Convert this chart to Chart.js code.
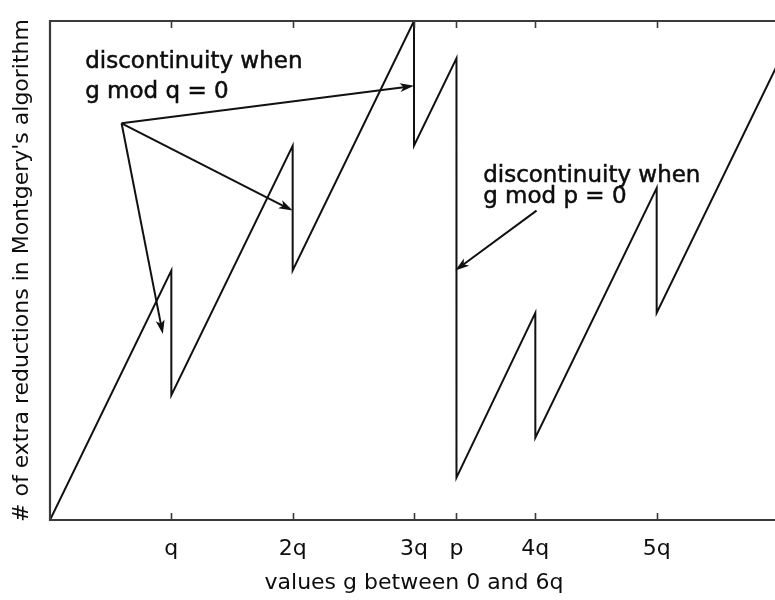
<!DOCTYPE html>
<html lang="en">
<head>
	<meta charset="UTF-8">
	<title>extra reductions</title>
	<script src="https://cdn.jsdelivr.net/npm/chart.js@4/dist/chart.umd.min.js"></script>
	<style>
		html, body { margin: 0; padding: 0; overflow: hidden; background: #fff; }
		.box { width: 778px; height: 600px; }
	</style>
</head>
<body>
	<div class="box">
		<canvas id="myChart"></canvas>
	</div>
<script>
	// g in units of q, p sits between 3q and 4q
	var P = 3.35;
	var gValues = [0, 1, 1, 2, 2, 3, 3, P, P, 4, 4, 5, 5, 6];
	var reductions = [0, 1, 0.5, 1.5, 1.0, 2.0, 1.5, 1.85, 0.17, 0.83, 0.33, 1.33, 0.83, 1.83];
	var tickValues = [1, 2, 3, P, 4, 5];
	var tickLabels = ["q", "2q", "3q", "p", "4q", "5q"];

	// annotation texts and arrows, in data units
	var noteQ = ["discontinuity when", "g mod q = 0"];
	var noteP = ["discontinuity when", "g mod p = 0"];
	var arrowsQ = [[3.0, 1.74], [2.0, 1.24], [0.93, 0.745]];
	var arrowQFrom = [0.59, 1.59];
	var arrowP = [[4.01, 1.24], [3.34, 1.0]];

	var points = [];
	for (var i = 0; i < gValues.length; i++) {
		points.push({x: gValues[i], y: reductions[i]});
	}

	var FONT = "'DejaVu Sans', sans-serif";
	var TEXT = "#0d0d0d";

	function arrow(ctx, x1, y1, x2, y2) {
		var a = Math.atan2(y2 - y1, x2 - x1);
		var len = 14, w = 4.5;
		ctx.beginPath();
		ctx.moveTo(x1, y1);
		ctx.lineTo(x2 - Math.cos(a) * len * 0.6, y2 - Math.sin(a) * len * 0.6);
		ctx.stroke();
		ctx.beginPath();
		ctx.moveTo(x2, y2);
		ctx.lineTo(x2 - Math.cos(a) * len - Math.sin(a) * w, y2 - Math.sin(a) * len + Math.cos(a) * w);
		ctx.lineTo(x2 - Math.cos(a) * len * 0.75, y2 - Math.sin(a) * len * 0.75);
		ctx.lineTo(x2 - Math.cos(a) * len + Math.sin(a) * w, y2 - Math.sin(a) * len - Math.cos(a) * w);
		ctx.closePath();
		ctx.fill();
	}

	var framePlugin = {
		id: "frame",
		afterDatasetsDraw: function(chart) {
			var ctx = chart.ctx, a = chart.chartArea;
			var xs = chart.scales.x, ys = chart.scales.y;
			ctx.save();
			// frame: left, top, bottom (right side is cut off)
			ctx.strokeStyle = "#3a3a3a";
			ctx.lineWidth = 2.2;
			ctx.beginPath();
			ctx.moveTo(a.right + 5, a.top);
			ctx.lineTo(a.left, a.top);
			ctx.lineTo(a.left, a.bottom);
			ctx.lineTo(a.right + 5, a.bottom);
			ctx.stroke();
			// inward tick marks at top and bottom
			ctx.lineWidth = 1.6;
			ctx.beginPath();
			for (var i = 0; i < tickValues.length; i++) {
				var px = Math.round(xs.getPixelForValue(tickValues[i])) + 0.5;
				ctx.moveTo(px, a.bottom);
				ctx.lineTo(px, a.bottom - 7);
				ctx.moveTo(px, a.top);
				ctx.lineTo(px, a.top + 7);
			}
			ctx.stroke();

			// notes
			ctx.fillStyle = TEXT;
			ctx.strokeStyle = TEXT;
			ctx.lineWidth = 0.5;
			ctx.font = "23px " + FONT;
			ctx.textBaseline = "alphabetic";
			var notes = [
				[noteQ[0], 0.29, 1.81], [noteQ[1], 0.29, 1.69],
				[noteP[0], 3.57, 1.355], [noteP[1], 3.57, 1.27]
			];
			for (var n = 0; n < notes.length; n++) {
				var tx = xs.getPixelForValue(notes[n][1]), ty = ys.getPixelForValue(notes[n][2]);
				ctx.fillText(notes[n][0], tx, ty);
				ctx.strokeText(notes[n][0], tx, ty);
			}

			// arrows
			ctx.strokeStyle = "#111";
			ctx.fillStyle = "#111";
			ctx.lineWidth = 2;
			var fx = xs.getPixelForValue(arrowQFrom[0]), fy = ys.getPixelForValue(arrowQFrom[1]);
			for (var j = 0; j < arrowsQ.length; j++) {
				arrow(ctx, fx, fy, xs.getPixelForValue(arrowsQ[j][0]), ys.getPixelForValue(arrowsQ[j][1]));
			}
			arrow(ctx, xs.getPixelForValue(arrowP[0][0]), ys.getPixelForValue(arrowP[0][1]),
				xs.getPixelForValue(arrowP[1][0]), ys.getPixelForValue(arrowP[1][1]));
			ctx.restore();
		}
	};

	var ctx = document.getElementById("myChart");
	var myChart = new Chart(ctx, {
		type: "line",
		data: {
			datasets: [{
				data: points,
				borderColor: "#111",
				borderWidth: 2,
				pointRadius: 0,
				tension: 0,
				fill: false
			}]
		},
		options: {
			responsive: true,
			maintainAspectRatio: false,
			animation: false,
			events: [],
			layout: { padding: { top: 21, right: 0, bottom: 0, left: 0 } },
			plugins: { legend: { display: false }, tooltip: { enabled: false } },
			scales: {
				x: {
					type: "linear",
					min: 0,
					max: 6,
					grid: { display: false, drawTicks: false },
					border: { display: false },
					afterBuildTicks: function(scale) {
						scale.ticks = tickValues.map(function(v) { return {value: v}; });
					},
					afterFit: function(scale) { scale.height = 80; },
					ticks: {
						autoSkip: false,
						maxRotation: 0,
						padding: 16,
						color: TEXT,
						font: { family: FONT, size: 22 },
						callback: function(v, i) { return tickLabels[i]; }
					},
					title: {
						display: true,
						text: "values g between 0 and 6q",
						color: TEXT,
						font: { family: FONT, size: 22 },
						padding: { top: 0, bottom: 4 }
					}
				},
				y: {
					min: 0,
					max: 2,
					grid: { display: false, drawTicks: false },
					border: { display: false },
					ticks: { display: false },
					afterFit: function(scale) { scale.width = 50; },
					title: {
						display: true,
						text: "# of extra reductions in Montgery's algorithm",
						color: TEXT,
						font: { family: FONT, size: 22 },
						padding: { top: 9, bottom: 0 }
					}
				}
			}
		},
		plugins: [framePlugin]
	});
</script>
</body>
</html>
